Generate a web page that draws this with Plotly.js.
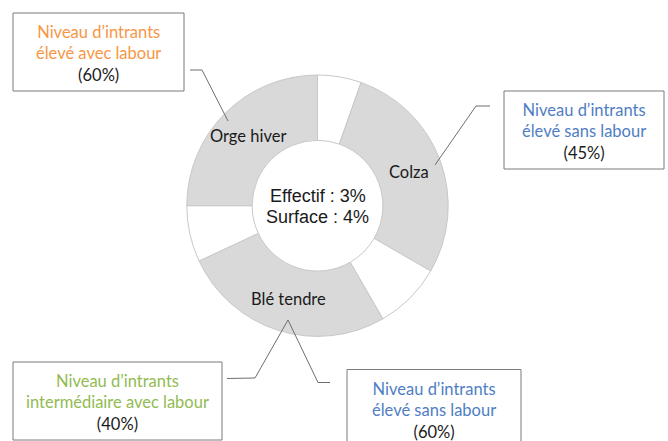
<!DOCTYPE html>
<html>
<head>
<meta charset="utf-8">
<script src="https://cdn.plot.ly/plotly-3.0.1.min.js"></script>
<style>html,body{margin:0;padding:0;background:#fff;}#chart{width:668px;height:441px;}</style>
</head>
<body>
<div id="chart"></div>
<script>
// ---- data ----
const sliceIds = ['vide1', 'Colza', 'vide2', 'Blé tendre', 'vide3', 'Orge hiver'];
const sliceText = ['', 'Colza', '', 'Blé tendre', '', 'Orge hiver'];
const sliceValues = [19.5, 100.5, 30, 95, 25, 90];
const sliceColors = ['#ffffff', '#d9d9d9', '#ffffff', '#d9d9d9', '#ffffff', '#d9d9d9'];
const centerLines = ['Effectif : 3%', 'Surface : 4%'];
const boxLine1 = ['Niveau d’intrants', 'Niveau d’intrants', 'Niveau d’intrants', 'Niveau d’intrants'];
const boxLine2 = ['élevé avec labour', 'élevé sans labour', 'intermédiaire avec labour', 'élevé sans labour'];
const boxShares = ['(60%)', '(45%)', '(40%)', '(60%)'];
const boxColors = ['#F79646', '#4F7EC4', '#92BB52', '#4F7EC4'];

// ---- layout helpers ----
const W = 668, H = 441;
const px = x => x / W;
const py = y => 1 - y / H;
const cx = 317.5, cy = 205.7, R = 130.7, HOLE = 0.5;

const boxes = [
  {l: 13, t: 13, w: 171, h: 78},
  {l: 504, t: 91, w: 160, h: 78},
  {l: 13, t: 362, w: 209, h: 78},
  {l: 347, t: 369.5, w: 174, h: 78}
];

const connectors = [
  [[190, 70], [202, 70], [228, 121]],
  [[490, 106], [476, 106], [435, 165]],
  [[227, 378.5], [255, 378], [288, 320]],
  [[288, 320], [318, 382.5], [330, 382.5]]
];

const trace = {
  type: 'pie',
  labels: sliceIds,
  values: sliceValues,
  textinfo: 'none',
  hole: HOLE,
  sort: false,
  direction: 'clockwise',
  rotation: 0,
  marker: {colors: sliceColors, line: {color: '#c8c8c8', width: 1}},
  domain: {x: [px(cx - R), px(cx + R)], y: [1 - (cy + R) / H, 1 - (cy - R) / H]},
  hoverinfo: 'skip',
  showlegend: false
};

const annotations = [];
// slice labels at mid-angle / mid-radius of each slice (derived from the values)
const total = sliceValues.reduce((a, b) => a + b, 0);
let cum = 0;
sliceValues.forEach((v, i) => {
  const mid = (cum + v / 2) / total * 2 * Math.PI;
  cum += v;
  if (!sliceText[i]) return;
  const r = R * (1 + HOLE) / 2;
  annotations.push({
    xref: 'paper', yref: 'paper',
    x: px(cx + r * Math.sin(mid)), y: py(cy - r * Math.cos(mid)),
    xanchor: 'center', yanchor: 'middle', showarrow: false,
    text: sliceText[i], font: {family: 'Lato, sans-serif', size: 16.5, color: '#1a1a1a'}
  });
});
centerLines.forEach((t, i) => {
  annotations.push({
    xref: 'paper', yref: 'paper', x: px(cx), y: py(196.3 + i * 20.7),
    xanchor: 'center', yanchor: 'middle', showarrow: false,
    text: t, font: {family: 'Liberation Sans, Arial, sans-serif', size: 18, color: '#1a1a1a'}
  });
});
const shapes = [];
boxes.forEach((b, i) => {
  shapes.push({
    type: 'rect', xref: 'paper', yref: 'paper',
    x0: px(b.l), x1: px(b.l + b.w), y0: py(b.t + b.h), y1: py(b.t),
    line: {color: '#7a7a7a', width: 1}, fillcolor: 'rgba(0,0,0,0)'
  });
  annotations.push({
    xref: 'paper', yref: 'paper', x: px(b.l + b.w / 2), y: py(b.t + 40.5),
    xanchor: 'center', yanchor: 'middle', showarrow: false,
    align: 'center',
    text: '<span style="color:' + boxColors[i] + '">' + boxLine1[i] + '<br>' + boxLine2[i] + '</span><br>' + boxShares[i],
    font: {family: 'Lato, sans-serif', size: 16.5, color: '#1a1a1a'}
  });
});

connectors.forEach(pts => shapes.push({
  type: 'path', xref: 'paper', yref: 'paper',
  path: pts.map((p, k) => (k ? 'L' : 'M') + px(p[0]) + ',' + py(p[1])).join(' '),
  line: {color: '#6e6e6e', width: 1}
}));

const layout = {
  width: W, height: H,
  margin: {l: 0, r: 0, t: 0, b: 0, pad: 0},
  paper_bgcolor: '#ffffff', plot_bgcolor: '#ffffff',
  showlegend: false,
  annotations: annotations,
  shapes: shapes
};

Plotly.newPlot('chart', [trace], layout, {displayModeBar: false, staticPlot: true});
</script>
</body>
</html>
